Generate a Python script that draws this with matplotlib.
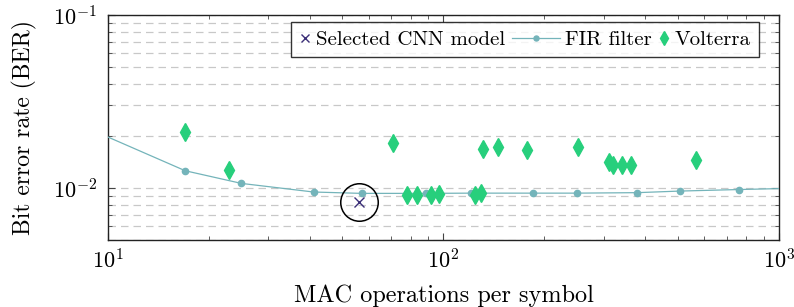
import numpy as np
import matplotlib
matplotlib.use("Agg")
import matplotlib.pyplot as plt
from matplotlib.legend_handler import HandlerLine2D

plt.rcParams["font.family"] = ["cmr10", "DejaVu Serif"]
plt.rcParams["mathtext.fontset"] = "cm"
plt.rcParams["axes.formatter.use_mathtext"] = True

# FIR filter sweep
fir_macs = [8, 17, 25, 41, 57, 89, 121, 185, 250, 378, 506, 762, 1200]
fir_ber = [0.0238, 0.01258, 0.01063, 0.00948, 0.00931, 0.00931, 0.00934,
           0.00934, 0.00934, 0.0094, 0.0096, 0.0098, 0.0100]

# Volterra configurations
volt_macs = [17.0, 23.0, 70.9, 78.0, 83.2, 91.8, 97.0, 124.1, 129.1, 130.9,
             145.0, 177.0, 252.2, 311.4, 320.7, 341.2, 361.4, 567.0]
volt_ber = [0.0212, 0.01263, 0.01818, 0.00915, 0.00915, 0.00915, 0.00924,
            0.00915, 0.00931, 0.01686, 0.01715, 0.01663, 0.01715, 0.01413,
            0.01358, 0.01364, 0.01351, 0.01457]

# selected CNN
cnn_macs = [56.0]
cnn_ber = [0.00834]


class WideLine(HandlerLine2D):
    # longer handle just for the line entry
    def legend_artist(self, legend, orig_handle, fontsize, handlebox):
        handlebox.width = 2.3 * fontsize
        return super().legend_artist(legend, orig_handle, fontsize, handlebox)


fig = plt.figure(figsize=(7.94, 3.07), dpi=100)
ax = fig.add_axes([0.136, 0.218, 0.845, 0.733])

fir_col = "#74b4ba"
volt_col = "#27cf7c"
cnn_col = "#3b2f78"

fir_line, = ax.plot(fir_macs, fir_ber, "-o", color=fir_col, lw=0.9, ms=4.5,
                    label="FIR filter", zorder=3)
volt_pts, = ax.plot(volt_macs, volt_ber, "d", color=volt_col, ms=9, ls="none",
                    label="Volterra", zorder=4)
cnn_pt, = ax.plot(cnn_macs, cnn_ber, "x", color=cnn_col, ms=7, mew=1.0, ls="none",
                  label="Selected CNN model", zorder=5)
ax.plot(cnn_macs, cnn_ber, "o", mfc="none", mec="black", ms=27, mew=1.1,
        ls="none", zorder=5)

ax.set_xscale("log")
ax.set_yscale("log")
ax.set_xlim(10, 1000)
ax.set_ylim(0.005, 0.1)

ax.yaxis.grid(True, which="both", ls=(0, (6, 4)), color="#c8c8c8", lw=0.9)
ax.set_axisbelow(True)

ax.tick_params(which="both", direction="in", top=True, right=True,
               labelsize=16, color="#444444")
ax.tick_params(axis="x", which="major", pad=6)
ax.tick_params(axis="y", which="major", pad=8)
ax.tick_params(which="major", length=5)
ax.tick_params(which="minor", length=3)
ax.yaxis.set_minor_formatter(matplotlib.ticker.NullFormatter())
ax.xaxis.set_minor_formatter(matplotlib.ticker.NullFormatter())
for s in ax.spines.values():
    s.set_color("#222222")
    s.set_linewidth(1.0)

ax.set_xlabel("MAC operations per symbol", fontsize=17.5, labelpad=8.5)
ax.set_ylabel("Bit error rate (BER)", fontsize=17, labelpad=11)

leg = ax.legend([cnn_pt, fir_line, volt_pts],
                ["Selected CNN model", "FIR filter", "Volterra"],
                handler_map={fir_line: WideLine()},
                loc="upper right", bbox_to_anchor=(0.970, 0.969),
                borderaxespad=0, ncol=3, fontsize=15,
                frameon=True, fancybox=False, edgecolor="black",
                handlelength=0.55, handletextpad=0.25, columnspacing=0.3,
                borderpad=0.4, markerscale=0.8)
leg.get_frame().set_linewidth(1.0)

fig.savefig("out.png", dpi=100)
